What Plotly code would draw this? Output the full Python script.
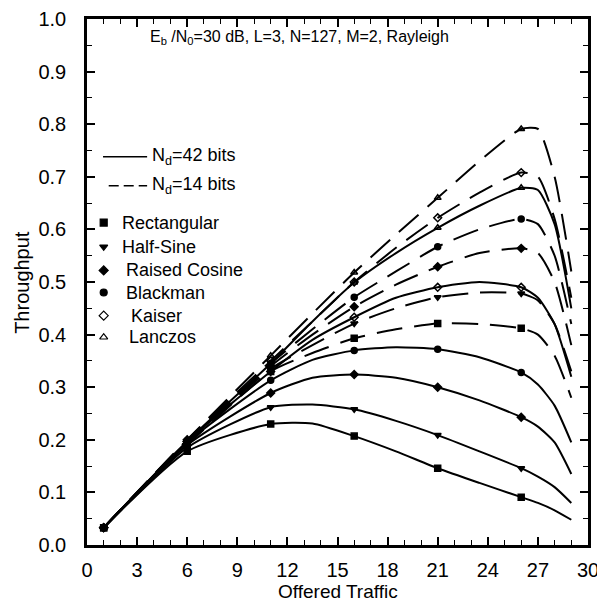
import plotly.graph_objects as go

# ---------------- data ----------------
X = [1, 6, 11, 13.5, 16, 18.5, 21, 23.5, 26, 27, 28, 29]
MARKER_X = [1, 6, 11, 16, 21, 26]

WINDOWS = ["Rectangular", "Half-Sine", "Raised Cosine", "Blackman", "Kaiser", "Lanczos"]
SYMBOLS = ["square", "triangle-down", "diamond", "circle", "diamond-open", "triangle-up-open"]

# Nd = 42 bits (solid)
rect_42 = [0.033, 0.178, 0.230, 0.231, 0.207, 0.178, 0.146, 0.118, 0.091, 0.080, 0.066, 0.048]
hsine_42 = [0.033, 0.185, 0.262, 0.267, 0.258, 0.236, 0.209, 0.178, 0.146, 0.130, 0.110, 0.080]
rcos_42 = [0.033, 0.190, 0.289, 0.318, 0.324, 0.318, 0.300, 0.275, 0.243, 0.225, 0.195, 0.135]
black_42 = [0.033, 0.195, 0.313, 0.352, 0.370, 0.376, 0.372, 0.357, 0.328, 0.305, 0.265, 0.195]
kaiser_42 = [0.033, 0.197, 0.330, 0.390, 0.433, 0.470, 0.490, 0.500, 0.490, 0.470, 0.420, 0.320]
lanczos_42 = [0.033, 0.197, 0.345, 0.425, 0.499, 0.555, 0.603, 0.645, 0.679, 0.675, 0.610, 0.450]

# Nd = 14 bits (dashed)
rect_14 = [0.033, 0.190, 0.330, 0.365, 0.393, 0.410, 0.421, 0.420, 0.412, 0.400, 0.360, 0.280]
hsine_14 = [0.033, 0.195, 0.335, 0.380, 0.421, 0.450, 0.471, 0.480, 0.478, 0.465, 0.420, 0.330]
rcos_14 = [0.033, 0.197, 0.340, 0.400, 0.453, 0.495, 0.529, 0.555, 0.564, 0.555, 0.500, 0.380]
black_14 = [0.033, 0.198, 0.345, 0.410, 0.471, 0.520, 0.567, 0.600, 0.620, 0.610, 0.550, 0.420]
kaiser_14 = [0.033, 0.200, 0.350, 0.425, 0.500, 0.565, 0.622, 0.670, 0.708, 0.700, 0.620, 0.470]
lanczos_14 = [0.033, 0.200, 0.360, 0.440, 0.518, 0.590, 0.660, 0.730, 0.791, 0.791, 0.700, 0.520]

SERIES_42 = [rect_42, hsine_42, rcos_42, black_42, kaiser_42, lanczos_42]
SERIES_14 = [rect_14, hsine_14, rcos_14, black_14, kaiser_14, lanczos_14]

X_TICKS = [0, 3, 6, 9, 12, 15, 18, 21, 24, 27, 30]
Y_TICKS = [0.0, 0.1, 0.2, 0.3, 0.4, 0.5, 0.6, 0.7, 0.8, 0.9, 1.0]

TITLE = "E<sub>b</sub> /N<sub>0</sub>=30 dB, L=3, N=127, M=2, Rayleigh"
LINE_LABELS = ["N<sub>d</sub>=42 bits", "N<sub>d</sub>=14 bits"]
X_TITLE = "Offered Traffic"
Y_TITLE = "Throughput"

# ---------------- figure ----------------
FONT = "Liberation Sans, Arial, sans-serif"
fig = go.Figure()

def add_series(ys, dash, sym):
    fig.add_trace(go.Scatter(
        x=X, y=ys, mode="lines",
        line=dict(color="black", width=2, dash=dash, shape="spline", smoothing=0.6),
        showlegend=False, hoverinfo="skip"))
    mx = [x for x in X if x in MARKER_X]
    my = [y for x, y in zip(X, ys) if x in MARKER_X]
    fig.add_trace(go.Scatter(
        x=mx, y=my, mode="markers",
        marker=dict(symbol=sym, size=6, color="black", line=dict(color="black", width=1.5)),
        showlegend=False, hoverinfo="skip"))

for ys, sym in zip(SERIES_42, SYMBOLS):
    add_series(ys, "solid", sym)
for ys, sym in zip(SERIES_14, SYMBOLS):
    add_series(ys, "26px,12px", sym)

# ---------------- custom legend ----------------
fig.add_shape(type="line", x0=0.96, x1=3.6, y0=0.738, y1=0.738,
              line=dict(color="black", width=1.5))
fig.add_shape(type="line", x0=1.3, x1=3.6, y0=0.683, y1=0.683,
              line=dict(color="black", width=1.5, dash="10px,5px"))
fig.add_annotation(x=3.75, y=0.738, text=LINE_LABELS[0], showarrow=False, xanchor="left",
                   font=dict(family=FONT, size=18, color="black"))
fig.add_annotation(x=3.75, y=0.683, text=LINE_LABELS[1], showarrow=False, xanchor="left",
                   font=dict(family=FONT, size=18, color="black"))

leg_y = [0.613, 0.567, 0.522, 0.480, 0.436, 0.395]
leg_tx = [2.0, 2.0, 2.2, 2.2, 2.5, 2.4]
fig.add_trace(go.Scatter(
    x=[1.0] * 6, y=leg_y, mode="markers",
    marker=dict(symbol=SYMBOLS, size=7, color="black", line=dict(color="black", width=1.2)),
    showlegend=False, hoverinfo="skip"))
for name, yy, tx in zip(WINDOWS, leg_y, leg_tx):
    fig.add_annotation(x=tx, y=yy, text=name, showarrow=False, xanchor="left",
                       font=dict(family=FONT, size=18, color="black"))

fig.add_annotation(x=12.7, y=0.965, text=TITLE, showarrow=False,
                   font=dict(family=FONT, size=16, color="black"))

# axis titles as paper annotations
fig.add_annotation(xref="paper", yref="paper", x=0.5, y=-0.089, yanchor="middle",
                   text=X_TITLE, showarrow=False,
                   font=dict(family=FONT, size=19, color="black"))
fig.add_annotation(xref="paper", yref="paper", x=-0.13, y=0.5, xanchor="center",
                   text=Y_TITLE, showarrow=False, textangle=-90,
                   font=dict(family=FONT, size=20, color="black"))

axis_common = dict(
    showline=True, linecolor="black", linewidth=2.5, mirror="allticks",
    ticks="inside", ticklen=8, tickwidth=1.5, tickcolor="black",
    showgrid=False, zeroline=False, automargin=False,
    tickfont=dict(family=FONT, size=20, color="black"),
)

# the page adds an 8px body margin, so the figure is sized to fit the window
fig.update_layout(
    width=597, height=596,
    margin=dict(l=79, r=17, t=11, b=59),
    paper_bgcolor="white", plot_bgcolor="white",
    font=dict(family=FONT, color="black"),
    xaxis=dict(range=[0, 30], tickvals=X_TICKS, ticktext=[str(v) for v in X_TICKS],
               minor=dict(dtick=1, ticks="inside", ticklen=5, tickcolor="black", tickwidth=1.2),
               ticklabelstandoff=5, **axis_common),
    yaxis=dict(range=[0, 1], tickvals=Y_TICKS, ticktext=[f"{v:.1f}" for v in Y_TICKS],
               minor=dict(dtick=0.05, ticks="inside", ticklen=5, tickcolor="black", tickwidth=1.2),
               ticklabelstandoff=14, **axis_common),
)

fig.write_html("out.html")
